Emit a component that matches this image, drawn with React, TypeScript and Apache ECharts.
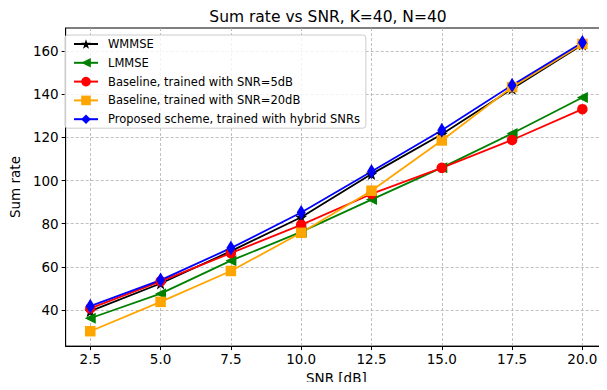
import React, { useEffect, useRef } from "react";
import * as echarts from "echarts";

const snr = [2.5, 5.0, 7.5, 10.0, 12.5, 15.0, 17.5, 20.0];
const wmmse = [39.5, 52.3, 67.3, 83.0, 103.0, 121.5, 142.5, 163.0];
const lmmse = [36.2, 47.6, 62.9, 76.2, 91.2, 106.0, 121.8, 138.5];
const baseline5 = [40.8, 53.3, 66.4, 79.5, 93.8, 105.9, 118.8, 133.1];
const baseline20 = [30.2, 43.8, 58.1, 75.8, 95.3, 118.6, 143.3, 163.3];
const proposed = [41.8, 53.9, 68.7, 85.2, 104.2, 123.3, 144.2, 164.0];
const xTicks = [2.5, 5.0, 7.5, 10.0, 12.5, 15.0, 17.5, 20.0];
const yTicks = [40, 60, 80, 100, 120, 140, 160];

const STAR =
  "path://M0,-10 L2.35,-3.24 L9.51,-3.09 L3.8,1.24 L5.88,8.09 L0,4 L-5.88,8.09 L-3.8,1.24 L-9.51,-3.09 L-2.35,-3.24 Z";

const FONT = "DejaVu Sans";

export default function App() {
  const ref = useRef<HTMLDivElement>(null);
  useEffect(() => {
    if (!ref.current) return;
    const chart = echarts.init(ref.current, undefined, { renderer: "svg" });
    const pts = (ys: number[]) => snr.map((x, i) => [x, ys[i]]);
    const mk = (
      name: string,
      ys: number[],
      color: string,
      symbol: string,
      size: number | number[],
      rotate = 0
    ) => ({
      name,
      type: "line",
      data: pts(ys),
      symbol,
      symbolSize: size,
      symbolRotate: rotate,
      showAllSymbol: true,
      lineStyle: { color, width: 1.8 },
      itemStyle: { color, borderWidth: 0 },
      emphasis: { disabled: true },
    });
    const gridLine = {
      show: true,
      lineStyle: { color: "#b0b0b0", type: [3, 2], width: 0.8 },
    };
    chart.setOption({
      animation: false,
      backgroundColor: "#ffffff",
      title: {
        text: "Sum rate vs SNR, K=40, N=40",
        left: 323,
        textAlign: "center",
        top: 4,
        textStyle: { fontFamily: FONT, fontSize: 15.5, fontWeight: "normal", color: "#000" },
      },
      legend: {
        orient: "vertical",
        left: 65,
        top: 35,
        itemWidth: 24,
        itemHeight: 12,
        itemGap: 6.8,
        padding: [3, 6, 3, 8],
        backgroundColor: "rgba(255,255,255,0.8)",
        borderColor: "#cccccc",
        borderWidth: 1,
        borderRadius: 3,
        textStyle: { fontFamily: FONT, fontSize: 11.5, color: "#000", lineHeight: 12, padding: [0, 0, 0, 5] },
      },
      grid: {
        left: 63,
        right: -2,
        top: 28,
        bottom: 36,
        show: true,
        borderColor: "#000",
        borderWidth: 1,
        backgroundColor: "transparent",
      },
      xAxis: {
        type: "value",
        min: 1.625,
        max: 20.875,
        name: "SNR [dB]",
        nameLocation: "middle",
        nameGap: 23,
        nameTextStyle: { fontFamily: FONT, fontSize: 13.5, color: "#000" },
        axisLine: { show: true, lineStyle: { color: "#000" } },
        axisTick: { show: true, inside: false, length: 4, customValues: xTicks, lineStyle: { color: "#000" } },
        axisLabel: {
          customValues: xTicks,
          formatter: (v: number) => v.toFixed(1),
          fontFamily: FONT,
          fontSize: 13.5,
          color: "#000",
          margin: 6,
        },
        splitLine: gridLine,
      },
      yAxis: {
        type: "value",
        min: 23.3,
        max: 170.7,
        name: "Sum rate",
        nameLocation: "middle",
        nameGap: 38,
        nameTextStyle: { fontFamily: FONT, fontSize: 13.5, color: "#000" },
        axisLine: { show: true, lineStyle: { color: "#000" } },
        axisTick: { show: true, inside: false, length: 4, customValues: yTicks, lineStyle: { color: "#000" } },
        axisLabel: {
          customValues: yTicks,
          fontFamily: FONT,
          fontSize: 13.5,
          color: "#000",
          margin: 7,
        },
        splitLine: gridLine,
      },
      series: [
        mk("WMMSE", wmmse, "#000000", STAR, 12),
        mk("LMMSE", lmmse, "#008000", "triangle", 11, 90),
        mk("Baseline, trained with SNR=5dB", baseline5, "#ff0000", "circle", 10.5),
        mk("Baseline, trained with SNR=20dB", baseline20, "#ffa500", "rect", 10.5),
        mk("Proposed scheme, trained with hybrid SNRs", proposed, "#0000ff", "diamond", [9, 15]),
      ],
    });
    return () => chart.dispose();
  }, []);
  return <div ref={ref} style={{ width: 607, height: 390, margin: -8 }} />;
}
